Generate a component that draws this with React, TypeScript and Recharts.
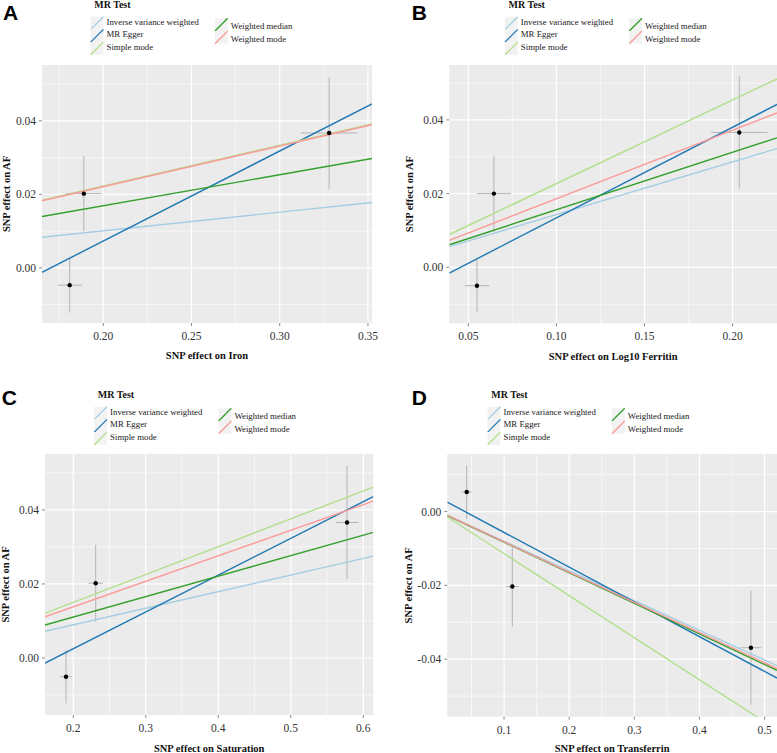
import React from "react";
import { ComposedChart, XAxis, YAxis, CartesianGrid, Scatter, ErrorBar, ReferenceLine, Label } from "recharts";

const methods = ["Inverse variance weighted", "MR Egger", "Simple mode", "Weighted median", "Weighted mode"];
const methodColors = ["#A6CEE3", "#1F78B4", "#B2DF8A", "#33A02C", "#FB9A99"];

// A: iron
const ironX = [0.181, 0.189, 0.328];
const ironY = [-0.0047, 0.0202, 0.0367];
const ironSeX = [0.007, 0.01, 0.016];
const ironSeY = [0.0075, 0.0103, 0.0152];
const ironSlopes = [0.0505, 0.245, 0.1112, 0.0845, 0.1105];
const ironIntercepts = [0, -0.0417, 0, 0, 0];
const ironTicks = [0.2, 0.25, 0.3, 0.35];
const ironMinor = [0.175, 0.225, 0.275, 0.325];

// B: log10 ferritin
const ferritinX = [0.0549, 0.0645, 0.2038];
const ferritinY = [-0.005, 0.02, 0.0366];
const ferritinSeX = [0.0069, 0.0098, 0.016];
const ferritinSeY = [0.0071, 0.0103, 0.0152];
const ferritinSlopes = [0.143, 0.246, 0.227, 0.156, 0.186];
const ferritinIntercepts = [0, -0.0112, 0, 0, 0];
const ferritinTicks = [0.05, 0.1, 0.15, 0.2];
const ferritinMinor = [0.075, 0.125, 0.175];

// C: saturation
const satX = [0.19, 0.2309, 0.5776];
const satY = [-0.00505, 0.0202, 0.0366];
const satSeX = [0.008, 0.01, 0.0154];
const satSeY = [0.0072, 0.0104, 0.0153];
const satSlopes = [0.0448, 0.0994, 0.0752, 0.0553, 0.069];
const satIntercepts = [0, -0.0174, 0, 0, 0];
const satTicks = [0.2, 0.3, 0.4, 0.5, 0.6];
const satMinor = [0.25, 0.35, 0.45, 0.55];

// D: transferrin
const trfX = [0.0427, 0.1127, 0.479];
const trfY = [0.0053, -0.0203, -0.0369];
const trfSeX = [0.0078, 0.0095, 0.016];
const trfSeY = [0.0073, 0.0108, 0.0155];
const trfSlopes = [-0.0805, -0.0942, -0.114, -0.0829, -0.082];
const trfIntercepts = [0, 0.00377, 0, 0, 0];
const trfTicks = [0.1, 0.2, 0.3, 0.4, 0.5];
const trfMinor = [0.05, 0.15, 0.25, 0.35, 0.45];

const afTicks = [0, 0.02, 0.04];
const afMinor = [-0.01, 0.01, 0.03, 0.05];
const afTicksNeg = [-0.04, -0.02, 0];
const afMinorNeg = [-0.05, -0.03, -0.01, 0.01];

const serif = "'Liberation Serif', 'Times New Roman', serif";

type Panel = {
  letter: string;
  exposure: string;
  x: number[]; y: number[]; seX: number[]; seY: number[];
  slopes: number[]; intercepts: number[];
  xTicks: number[]; xMinor: number[]; yTicks: number[]; yMinor: number[];
  xDomain: [number, number]; yDomain: [number, number]; xDec: number;
  left: number; top: number; width: number; height: number;
  plot: { l: number; r: number; t: number; b: number };
  yTitleX: number; xTitleY: number;
  letterPos: [number, number]; legendPos: [number, number];
};

const panels: Panel[] = [
  {
    letter: "A", exposure: "Iron",
    x: ironX, y: ironY, seX: ironSeX, seY: ironSeY, slopes: ironSlopes, intercepts: ironIntercepts,
    xTicks: ironTicks, xMinor: ironMinor, yTicks: afTicks, yMinor: afMinor,
    xDomain: [0.1653, 0.3523], yDomain: [-0.015, 0.0552], xDec: 2,
    left: 0, top: 0, width: 388, height: 376, plot: { l: 42, r: 372, t: 65, b: 323 },
    yTitleX: 6, xTitleY: 355.3, letterPos: [3, 20], legendPos: [90.7, 0],
  },
  {
    letter: "B", exposure: "Log10 Ferritin",
    x: ferritinX, y: ferritinY, seX: ferritinSeX, seY: ferritinSeY, slopes: ferritinSlopes, intercepts: ferritinIntercepts,
    xTicks: ferritinTicks, xMinor: ferritinMinor, yTicks: afTicks, yMinor: afMinor,
    xDomain: [0.0392, 0.2252], yDomain: [-0.0152, 0.0549], xDec: 2,
    left: 388, top: 0, width: 389, height: 376, plot: { l: 449.3, r: 777, t: 65, b: 323.3 },
    yTitleX: 409.5, xTitleY: 356.7, letterPos: [411.7, 20], legendPos: [505, 0],
  },
  {
    letter: "C", exposure: "Saturation",
    x: satX, y: satY, seX: satSeX, seY: satSeY, slopes: satSlopes, intercepts: satIntercepts,
    xTicks: satTicks, xMinor: satMinor, yTicks: afTicks, yMinor: afMinor,
    xDomain: [0.161, 0.6138], yDomain: [-0.0154, 0.0551], xDec: 1,
    left: 0, top: 389, width: 388, height: 364, plot: { l: 45, r: 373.3, t: 454, b: 715 },
    yTitleX: 5.5, xTitleY: 748.3, letterPos: [1.7, 405], legendPos: [94.3, 390],
  },
  {
    letter: "D", exposure: "Transferrin",
    x: trfX, y: trfY, seX: trfSeX, seY: trfSeY, slopes: trfSlopes, intercepts: trfIntercepts,
    xTicks: trfTicks, xMinor: trfMinor, yTicks: afTicksNeg, yMinor: afMinorNeg,
    xDomain: [0.0129, 0.519], yDomain: [-0.0556, 0.0156], xDec: 1,
    left: 388, top: 389, width: 389, height: 364, plot: { l: 447.3, r: 777, t: 454, b: 716.7 },
    yTitleX: 408.5, xTitleY: 748.3, letterPos: [411.7, 405], legendPos: [487.7, 390],
  },
];

function MrPanel({ p }: { p: Panel }) {
  const pts = p.x.map((x, i) => ({ x, y: p.y[i], ex: p.seX[i], ey: p.seY[i] }));
  const [xa, xb] = p.xDomain;
  const tickStyle = { fontFamily: serif, fontSize: 11.5, fill: "#333333" };
  const midY = (p.plot.t + p.plot.b) / 2 - p.top;
  return (
    <div style={{ position: "absolute", left: p.left, top: p.top }}>
      <ComposedChart
        width={p.width}
        height={p.height}
        margin={{ top: p.plot.t - p.top, right: p.left + p.width - p.plot.r, bottom: 0, left: 0 }}
      >
        <CartesianGrid fill="#EBEBEB" stroke="#FFFFFF" strokeWidth={0.6} verticalValues={p.xMinor} horizontalValues={p.yMinor} />
        <CartesianGrid stroke="#FFFFFF" strokeWidth={1.2} verticalValues={p.xTicks} horizontalValues={p.yTicks} />
        <XAxis
          type="number" dataKey="x" domain={p.xDomain} allowDataOverflow ticks={p.xTicks} interval={0}
          height={p.top + p.height - p.plot.b} axisLine={false} tickSize={3} tickMargin={6}
          tickLine={{ stroke: "#8A8A8A" }} tick={tickStyle} tickFormatter={(v: number) => v.toFixed(p.xDec)}
        >
          <Label
            content={(lp: any) => (
              <text x={lp.viewBox.x + lp.viewBox.width / 2} y={p.xTitleY - p.top} textAnchor="middle"
                dominantBaseline="central" fontFamily={serif} fontWeight="bold" fontSize={10.5} fill="#111">
                {"SNP effect on " + p.exposure}
              </text>
            )}
          />
        </XAxis>
        <YAxis
          type="number" dataKey="y" domain={p.yDomain} allowDataOverflow ticks={p.yTicks} interval={0}
          width={p.plot.l - p.left} axisLine={false} tickSize={3} tickMargin={3}
          tickLine={{ stroke: "#8A8A8A" }} tick={tickStyle} tickFormatter={(v: number) => v.toFixed(2)}
        >
          <Label
            content={() => (
              <text x={p.yTitleX - p.left} y={midY} textAnchor="middle" dominantBaseline="central"
                transform={`rotate(-90 ${p.yTitleX - p.left} ${midY})`}
                fontFamily={serif} fontWeight="bold" fontSize={10.5} fill="#111">
                SNP effect on AF
              </text>
            )}
          />
        </YAxis>
        <Scatter data={pts} isAnimationActive={false} fill="#000"
          shape={(sp: any) => <circle cx={sp.cx} cy={sp.cy} r={2.2} fill="#000" />}>
          <ErrorBar dataKey="ey" direction="y" width={0} stroke="#B4B4B4" strokeWidth={1} isAnimationActive={false} />
          <ErrorBar dataKey="ex" direction="x" width={0} stroke="#B4B4B4" strokeWidth={1} isAnimationActive={false} />
        </Scatter>
        {methods.map((m, i) => (
          <ReferenceLine
            key={m}
            segment={[
              { x: xa, y: p.intercepts[i] + p.slopes[i] * xa },
              { x: xb, y: p.intercepts[i] + p.slopes[i] * xb },
            ]}
            ifOverflow="hidden"
            stroke={methodColors[i]}
            strokeWidth={1.4}
          />
        ))}
      </ComposedChart>
    </div>
  );
}

function LegendBlock({ x, y }: { x: number; y: number }) {
  const k = 12.7;
  const item = (m: number, kx: number, ky: number, ty: number) => (
    <g key={m}>
      <rect x={kx} y={ky} width={k} height={k} fill="#F2F2F2" />
      <line x1={kx} y1={ky + k} x2={kx + k} y2={ky} stroke={methodColors[m]} strokeWidth={1.3} />
      <text x={kx + 15.8} y={ty} dominantBaseline="central" fontFamily={serif} fontSize={8.8} fill="#1A1A1A">
        {methods[m]}
      </text>
    </g>
  );
  return (
    <g>
      <text x={x + 3.5} y={y + 8} fontFamily={serif} fontWeight="bold" fontSize={10} fill="#111">MR Test</text>
      {[0, 1, 2].map((m, i) => item(m, x, y + 16.7 + i * k, y + 21.8 + i * 12.5))}
      {[3, 4].map((m, i) => item(m, x + 124.3, y + 18.3 + i * k, y + 26 + i * 13))}
    </g>
  );
}

export default function App() {
  return (
    <div style={{ position: "absolute", left: 0, top: 0, width: 777, height: 753, background: "#fff", overflow: "hidden" }}>
      {panels.map((p) => (
        <MrPanel key={p.letter} p={p} />
      ))}
      <svg width={777} height={753} style={{ position: "absolute", left: 0, top: 0, pointerEvents: "none" }}>
        {panels.map((p) => (
          <g key={p.letter}>
            <text x={p.letterPos[0]} y={p.letterPos[1]} fontFamily="'Liberation Sans', Arial, sans-serif"
              fontWeight="bold" fontSize={21} fill="#000">
              {p.letter}
            </text>
            <LegendBlock x={p.legendPos[0]} y={p.legendPos[1]} />
          </g>
        ))}
      </svg>
    </div>
  );
}
